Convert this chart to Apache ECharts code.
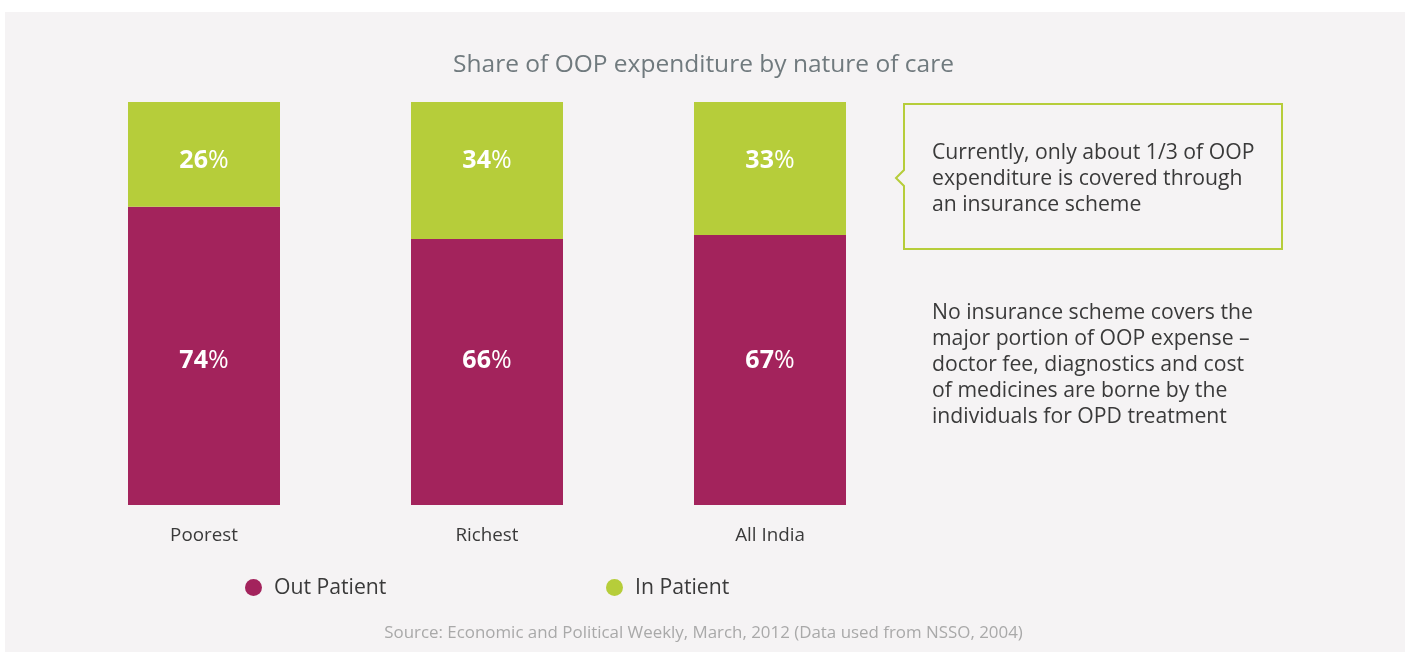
<!DOCTYPE html>
<html>
<head>
<meta charset="utf-8">
<script src="https://cdn.jsdelivr.net/npm/echarts@6/dist/echarts.min.js"></script>
<style>
html,body{margin:0;padding:0;background:#ffffff;}
#chart{width:1407px;height:652px;}
</style>
</head>
<body>
<div id="chart"></div>
<script>
const categories = ['Poorest', 'Richest', 'All India'];
const outPatient = [74, 66, 67];
const inPatient = [26, 34, 33];
const seriesNames = ['Out Patient', 'In Patient'];
const titleText = 'Share of OOP expenditure by nature of care';
const calloutLines = ['Currently, only about 1/3 of OOP', 'expenditure is covered through', 'an insurance scheme'];
const noteLines = ['No insurance scheme covers the', 'major portion of OOP expense \u2013', 'doctor fee, diagnostics and cost', 'of medicines are borne by the', 'individuals for OPD treatment'];
const sourceText = 'Source: Economic and Political Weekly, March, 2012 (Data used from NSSO, 2004)';

const FONT = '"Open Sans", "Noto Sans", sans-serif';
const PURPLE = '#a3235c';
const GREEN = '#b6cd3a';

const chart = echarts.init(document.getElementById('chart'));

function makeLabel(position, distance) {
  return {
    show: true,
    position: position,
    distance: distance,
    formatter: p => '{b|' + p.value + '}{n|%}',
    rich: {
      b: { fontFamily: FONT, fontSize: 25, fontWeight: 'bold', color: '#ffffff' },
      n: { fontFamily: FONT, fontSize: 25, fontWeight: 'normal', color: '#ffffff' }
    }
  };
}

const textGraphics = [];
calloutLines.forEach((t, i) => {
  textGraphics.push({
    type: 'text', left: 932, top: 142 + i * 26, silent: true,
    style: { text: t, fontFamily: FONT, fontSize: 21.2, fill: '#3a3a3a' }
  });
});
noteLines.forEach((t, i) => {
  textGraphics.push({
    type: 'text', left: 932, top: 302 + i * 26, silent: true,
    style: { text: t, fontFamily: FONT, fontSize: 21.2, fill: '#3a3a3a' }
  });
});

chart.setOption({
  animation: false,
  backgroundColor: '#ffffff',
  title: {
    text: titleText,
    left: 'center',
    top: 48,
    textStyle: { fontFamily: FONT, fontSize: 24.5, fontWeight: 'normal', color: '#707a7e' }
  },
  legend: [
    {
      data: [seriesNames[0]], left: 240, top: 572, icon: 'circle',
      itemWidth: 17, itemHeight: 17, itemGap: 10,
      textStyle: { fontFamily: FONT, fontSize: 21.2, color: '#3a3a3a', padding: [0, 0, 0, 7] }
    },
    {
      data: [seriesNames[1]], left: 601, top: 572, icon: 'circle',
      itemWidth: 17, itemHeight: 17, itemGap: 10,
      textStyle: { fontFamily: FONT, fontSize: 21.2, color: '#3a3a3a', padding: [0, 0, 0, 7] }
    }
  ],
  grid: { left: 62.5, width: 849, top: 102, height: 403, containLabel: false },
  xAxis: {
    type: 'category',
    data: categories,
    axisLine: { show: false },
    axisTick: { show: false },
    axisLabel: { margin: 21, fontFamily: FONT, fontSize: 18.8, color: '#3a3a3a' }
  },
  yAxis: {
    type: 'value', min: 0, max: 100,
    show: false,
    splitLine: { show: false }
  },
  series: [
    {
      name: seriesNames[0], type: 'bar', stack: 'total', data: outPatient,
      barWidth: 152, itemStyle: { color: PURPLE }, label: makeLabel('insideBottom', 132)
    },
    {
      name: seriesNames[1], type: 'bar', stack: 'total', data: inPatient,
      barWidth: 152, itemStyle: { color: GREEN }, label: makeLabel('insideTop', 46)
    }
  ],
  graphic: [
    {
      type: 'rect', z: -10, silent: true,
      shape: { x: 5, y: 12, width: 1400, height: 645 },
      style: { fill: '#f5f3f4' }
    },
    {
      type: 'polygon', z: 5, silent: true,
      shape: { points: [[904, 104], [1282, 104], [1282, 249], [904, 249], [904, 186], [896, 178], [904, 170]] },
      style: { fill: 'none', stroke: '#b6cd3a', lineWidth: 2 }
    },
    ...textGraphics,
    {
      type: 'text', left: 'center', top: 625, silent: true,
      style: { text: sourceText, fontFamily: FONT, fontSize: 16.9, fill: '#a9a9a9' }
    }
  ]
});
</script>
</body>
</html>
